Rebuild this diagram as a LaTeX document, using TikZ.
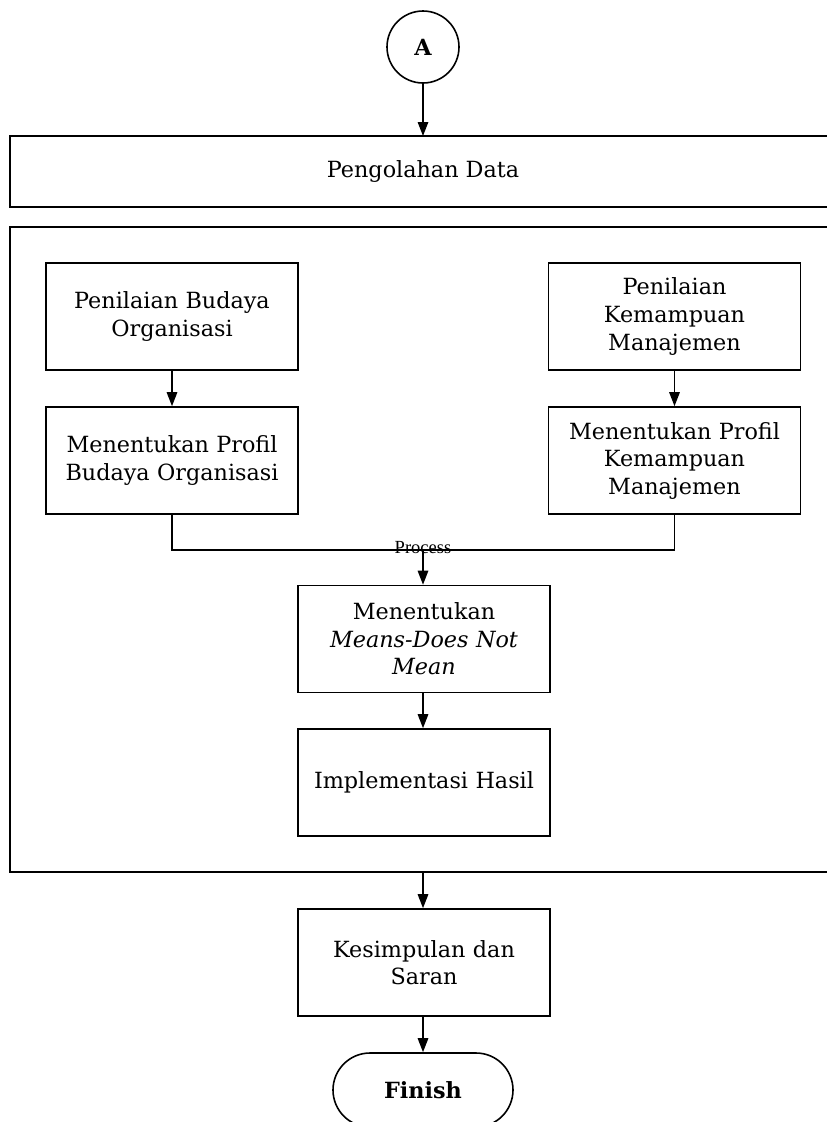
\documentclass[tikz,border=0pt]{standalone}
\usepackage{fontspec}
\setmainfont{DejaVu Serif}
\newfontfamily\labelfont{Liberation Serif}
\usetikzlibrary{arrows.meta,shapes.misc}
\begin{document}
\begin{tikzpicture}[x=1pt,y=-1pt,
  line width=1.6pt,
  every node/.style={font=\fontsize{22.3}{27.5}\selectfont},
  procbox/.style={draw, rectangle, minimum width=252pt, minimum height=107pt, text width=245pt, align=center, inner sep=0pt},
  frame/.style={draw, line width=1.7pt},
  arr/.style={-{Triangle[length=14pt,width=10.5pt]}, line width=1.4pt},
  link/.style={line width=1.4pt}]
\useasboundingbox (0,0) rectangle (827,1122);
\clip (0,0) rectangle (827,1122);

% connector A
\node[draw, circle, minimum size=72pt, inner sep=0pt, font=\fontsize{22.3}{27.5}\selectfont\bfseries] (a) at (423,47) {A};

% data processing bar and the surrounding frame
\draw[frame] (840,136) -- (10,136) -- (10,207) -- (840,207);
\node (pd) at (423,171.5) {Pengolahan Data};
\coordinate (pdtop) at (423,136);
\draw[frame] (840,227) -- (10,227) -- (10,872) -- (840,872);
\coordinate (frbot) at (423,872);

% left branch
\node[procbox] (pbo) at (172,316.5) {Penilaian Budaya\\Organisasi};
\node[procbox] (mpbo) at (172,460.5) {Menentukan Profil\\Budaya Organisasi};
% right branch
\node[procbox] (pkm) at (674.5,316.5) {Penilaian\\Kemampuan\\Manajemen};
\node[procbox] (mpkm) at (674.5,460.5) {Menentukan Profil\\Kemampuan\\Manajemen};

% centre column
\node[procbox] (mdn) at (424,639) {Menentukan\\\textit{Means-Does Not}\\\textit{Mean}};
\node[procbox] (ih) at (424,782.5) {Implementasi Hasil};
\node[procbox] (ks) at (424,962.5) {Kesimpulan dan\\Saran};
\node[draw, rounded rectangle, minimum width=180pt, minimum height=74pt, inner sep=0pt, font=\fontsize{22.3}{27.5}\selectfont\bfseries] (fin) at (423,1090) {Finish};

% connectors
\draw[arr] (a) -- (pdtop);
\draw[arr] (pbo) -- (mpbo);
\draw[arr] (pkm) -- (mpkm);
\coordinate (join) at (423,550);
\draw[link] (mpbo.south) |- (join) -| (mpkm.south);
\draw[arr] (join) -- (mdn.north -| join);
\node[font=\labelfont\fontsize{18.5}{20}\selectfont, inner sep=0pt] (proc) at (423,548) {Process};
\draw[arr] (mdn.south -| join) -- (ih.north -| join);
\draw[arr] (frbot) -- (ks.north -| frbot);
\draw[arr] (ks.south -| fin.north) -- (fin.north);
\end{tikzpicture}
\end{document}
